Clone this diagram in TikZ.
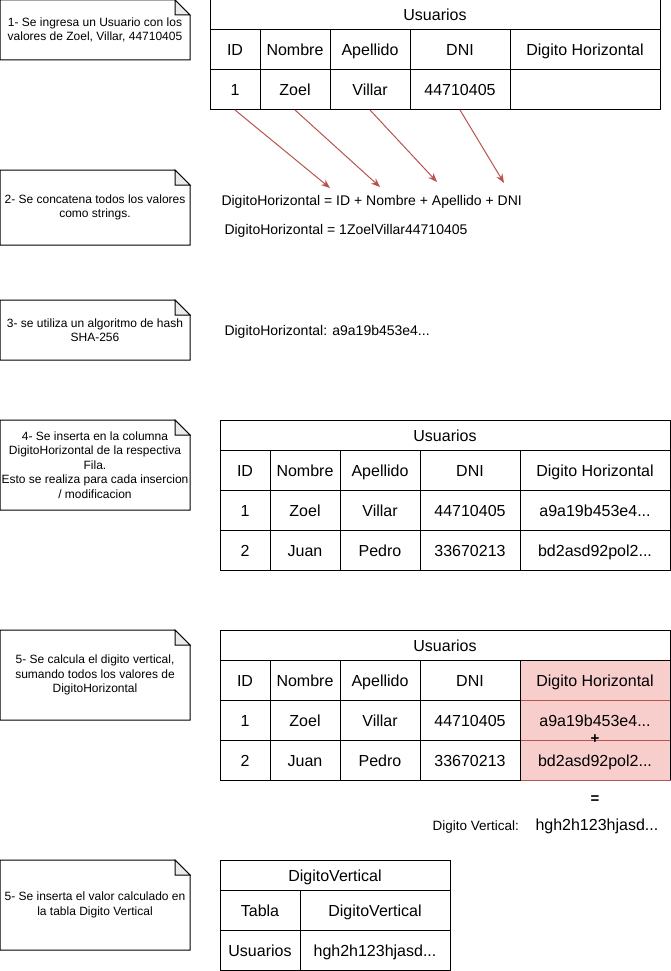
\documentclass[tikz,border=0pt]{standalone}
\usepackage{fontspec}
\setmainfont{Liberation Sans}
\usetikzlibrary{arrows.meta}
\definecolor{hzline}{HTML}{B85450}
\definecolor{hzfill}{HTML}{F8CECC}
\definecolor{foldgray}{HTML}{EBEBEB}
\newcommand{\tdots}{...}
\begin{document}
\begin{tikzpicture}[x=1pt,y=-1pt,line width=1pt,
	cell/.style={draw,inner sep=0,outer sep=0,minimum height=40,text height=13pt,text depth=1pt,font=\fontsize{16}{19}\selectfont},
	head/.style={cell,minimum height=30},
	pink/.style={cell,fill=hzfill,draw=hzline},
	note/.style={inner sep=0,outer sep=0,minimum width=190,align=center,font=\fontsize{12}{14.5}\selectfont},
	txt/.style={inner sep=0,anchor=west,text height=11pt,text depth=2pt,font=\fontsize{14}{17}\selectfont},
	sign/.style={inner sep=0,font=\bfseries\fontsize{15}{17}\selectfont},
	hz/.style={draw=hzline,-{Stealth[length=9pt,width=7pt]}}]
	\path[use as bounding box,fill=white] (0,0) rectangle (671,971);
	
	\node[note,minimum height=60] (s1) at (95,30) {1- Se ingresa un Usuario con los\\valores de Zoel, Villar, 44710405};
	\node[note,minimum height=75] (s2) at (95,207.5) {2- Se concatena todos los valores\\como strings.};
	\node[note,minimum height=60] (s3) at (95,330) {3- se utiliza un algoritmo de hash\\SHA-256};
	\node[note,minimum height=90] (s4) at (95,465) {4- Se inserta en la columna\\DigitoHorizontal de la respectiva\\Fila.\\Esto se realiza para cada insercion\\/ modificacion};
	\node[note,minimum height=90] (s5) at (95,675) {5- Se calcula el digito vertical,\\sumando todos los valores de\\DigitoHorizontal};
	\node[note,minimum height=90] (s6) at (95,905) {5- Se inserta el valor calculado en\\la tabla Digito Vertical};
	\foreach \n in {s1,s2,s3,s4,s5,s6} {
		\draw (\n.north west) -- ([xshift=-15pt]\n.north east) -- ([yshift=-15pt]\n.north east) -- (\n.south east) -- (\n.south west) -- cycle;
		\filldraw[fill=foldgray] ([xshift=-15pt]\n.north east) -- ([xshift=-15pt,yshift=-15pt]\n.north east) -- ([yshift=-15pt]\n.north east) -- cycle;
	}
	
	\node[head,minimum width=450] (uA) at (435,15) {Usuarios};
	\foreach \t/\w/\x [count=\i] in {ID/50/235,Nombre/70/295,Apellido/80/370,DNI/100/460,Digito Horizontal/150/585}
		\node[cell,minimum width=\w] (uA-h\i) at (\x,50) {\t};
	\foreach \t/\w/\x [count=\i] in {1/50/235,Zoel/70/295,Villar/80/370,44710405/100/460,{}/150/585}
		\node[cell,minimum width=\w] (uA-d\i) at (\x,90) {\t};
	
	\coordinate (pID) at (330,188);
	\coordinate (pNom) at (380,187);
	\coordinate (pApe) at (437,182);
	\coordinate (pDNI) at (504,183);
	\foreach \i/\p in {1/pID,2/pNom,3/pApe,4/pDNI}
		\draw[hz] (uA-d\i.south) -- (\p);
	\node[txt] (concat) at (221,201) {DigitoHorizontal = ID + Nombre + Apellido + DNI};
	\node[txt] (concatv) at (224,230) {DigitoHorizontal = 1ZoelVillar44710405};
	\node[txt] (hash) at (224,331) {DigitoHorizontal: a9a19b453e4\tdots};
	
	\node[head,minimum width=450] (uB) at (445,435) {Usuarios};
	\foreach \t/\w/\x [count=\i] in {ID/50/245,Nombre/70/305,Apellido/80/380,DNI/100/470,Digito Horizontal/150/595}
		\node[cell,minimum width=\w] (uB-h\i) at (\x,470) {\t};
	\foreach \t/\w/\x [count=\i] in {1/50/245,Zoel/70/305,Villar/80/380,44710405/100/470,a9a19b453e4\tdots/150/595}
		\node[cell,minimum width=\w] (uB-r1-\i) at (\x,510) {\t};
	\foreach \t/\w/\x [count=\i] in {2/50/245,Juan/70/305,Pedro/80/380,33670213/100/470,bd2asd92pol2\tdots/150/595}
		\node[cell,minimum width=\w] (uB-r2-\i) at (\x,550) {\t};
	
	\node[pink,minimum width=150] (uC-h5) at (595,680) {Digito Horizontal};
	\node[pink,minimum width=150] (uC-r1-5) at (595,720) {a9a19b453e4\tdots};
	\node[pink,minimum width=150] (uC-r2-5) at (595,760) {bd2asd92pol2\tdots};
	\node[head,minimum width=450] (uC) at (445,645) {Usuarios};
	\foreach \t/\w/\x [count=\i] in {ID/50/245,Nombre/70/305,Apellido/80/380,DNI/100/470}
		\node[cell,minimum width=\w] (uC-h\i) at (\x,680) {\t};
	\foreach \t/\w/\x [count=\i] in {1/50/245,Zoel/70/305,Villar/80/380,44710405/100/470}
		\node[cell,minimum width=\w] (uC-r1-\i) at (\x,720) {\t};
	\foreach \t/\w/\x [count=\i] in {2/50/245,Juan/70/305,Pedro/80/380,33670213/100/470}
		\node[cell,minimum width=\w] (uC-r2-\i) at (\x,760) {\t};
	\draw (uC.south east) -- (uC-r2-5.south east);
	\node[sign] (plus) at (595,739) {+};
	\node[sign] (eq) at (595,800) {=};
	\node[txt,font=\fontsize{13.5}{16}\selectfont] (dvlbl) at (432,826) {Digito Vertical:};
	\node[txt,font=\fontsize{16}{19}\selectfont] (dvval) at (535,826) {hgh2h123hjasd\tdots};
	
	\node[head,minimum width=230] (uD) at (335,875) {DigitoVertical};
	\node[cell,minimum width=80] (uD-h1) at (260,910) {Tabla};
	\node[cell,minimum width=150] (uD-h2) at (375,910) {DigitoVertical};
	\node[cell,minimum width=80] (uD-r1) at (260,950) {Usuarios};
	\node[cell,minimum width=150] (uD-r2) at (375,950) {hgh2h123hjasd\tdots};
\end{tikzpicture}
\end{document}
